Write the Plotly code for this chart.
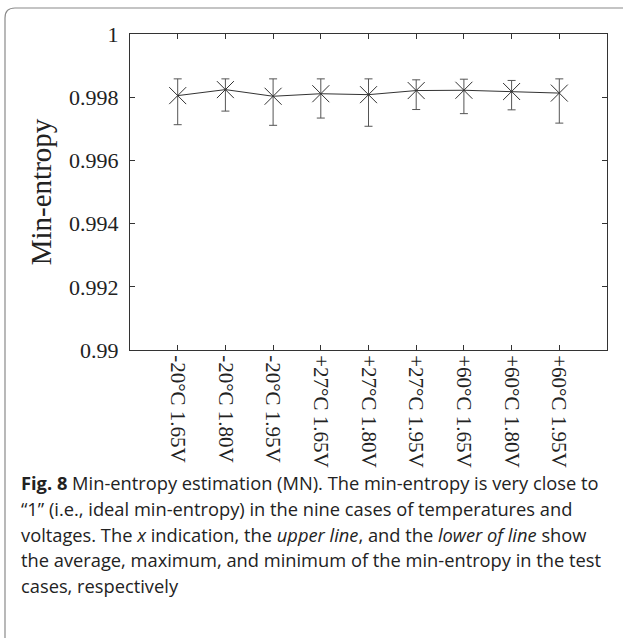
import plotly.graph_objects as go

# ---- data ----
categories = ["-20°C 1.65V", "-20°C 1.80V", "-20°C 1.95V",
              "+27°C 1.65V", "+27°C 1.80V", "+27°C 1.95V",
              "+60°C 1.65V", "+60°C 1.80V", "+60°C 1.95V"]
avg_vals = [0.99805, 0.99824, 0.99803, 0.99811, 0.99808, 0.99821, 0.99822, 0.99818, 0.99813]
max_vals = [0.99858, 0.99858, 0.99858, 0.99858, 0.99858, 0.99855, 0.99857, 0.99853, 0.99858]
min_vals = [0.99713, 0.99756, 0.99711, 0.99734, 0.99708, 0.99761, 0.99748, 0.99760, 0.99718]
y_tick_vals = [0.99, 0.992, 0.994, 0.996, 0.998, 1.0]
y_tick_text = ["0.99", "0.992", "0.994", "0.996", "0.998", "1"]

caption_lines = [
    "<b>Fig. 8</b> Min-entropy estimation (MN). The min-entropy is very close to",
    "\u201c1\u201d (i.e., ideal min-entropy) in the nine cases of temperatures and",
    "voltages. The <i>x</i> indication, the <i>upper line</i>, and the <i>lower of line</i> show",
    "the average, maximum, and minimum of the min-entropy in the test",
    "cases, respectively",
]

# ---- layout geometry (pixels) ----
W, H = 623, 638
L, R, T, B = 130, 16, 34, 288
PW = W - L - R
PH = H - T - B


def px_x(px):
    return (px - L) / PW


def px_y(py):
    return (H - B - py) / PH


xs = list(range(1, len(categories) + 1))
err_plus = [mx - a for mx, a in zip(max_vals, avg_vals)]
err_minus = [a - mn for mn, a in zip(min_vals, avg_vals)]

fig = go.Figure()
fig.add_trace(go.Scatter(
    x=xs, y=avg_vals,
    mode="lines+markers",
    line=dict(color="#333333", width=1),
    marker=dict(symbol="x-thin", size=17, line=dict(color="#333333", width=1)),
    error_y=dict(type="data", symmetric=False, array=err_plus, arrayminus=err_minus,
                 color="#555555", thickness=1, width=4),
    showlegend=False,
))

serif = "Liberation Serif"
axis_common = dict(
    showline=True, linecolor="#333333", linewidth=1, mirror="ticks",
    ticks="inside", ticklen=5, tickcolor="#333333", tickwidth=1,
    showgrid=False, zeroline=False,
)

fig.update_xaxes(range=[0, 10], tickvals=xs, ticktext=categories, tickangle=90,
                 tickfont=dict(family=serif, size=21, color="#222222"), **axis_common)
fig.update_yaxes(range=[0.99, 1.0], tickvals=y_tick_vals, ticktext=y_tick_text,
                 tickfont=dict(family=serif, size=22, color="#222222"),
                 ticklabelstandoff=6,
                 title=dict(text="Min-entropy", font=dict(family=serif, size=29, color="#222222"),
                            standoff=8),
                 **axis_common)

annotations = []
line_centers = [482, 508, 534, 559, 585]
for txt, cy in zip(caption_lines, line_centers):
    annotations.append(dict(
        text=txt, xref="paper", yref="paper", x=px_x(19), y=px_y(cy),
        xanchor="left", yanchor="middle", showarrow=False, align="left",
        font=dict(family="Open Sans", size=18.3, color="#222222"),
    ))

shapes = [
    dict(type="path", xref="paper", yref="paper",
         path=f"M {px_x(5)} {px_y(H + 2)} L {px_x(5)} {px_y(18)} "
              f"Q {px_x(5)} {px_y(8)} {px_x(15)} {px_y(8)} L {px_x(W + 2)} {px_y(8)}",
         line=dict(color="#8a8a8a", width=1.2)),
]

fig.update_layout(
    width=W, height=H,
    margin=dict(l=L, r=R, t=T, b=B),
    plot_bgcolor="white", paper_bgcolor="white",
    annotations=annotations, shapes=shapes,
)

fig.write_html("out.html", config={"displayModeBar": False},
               post_script="document.body.style.margin='0';")
